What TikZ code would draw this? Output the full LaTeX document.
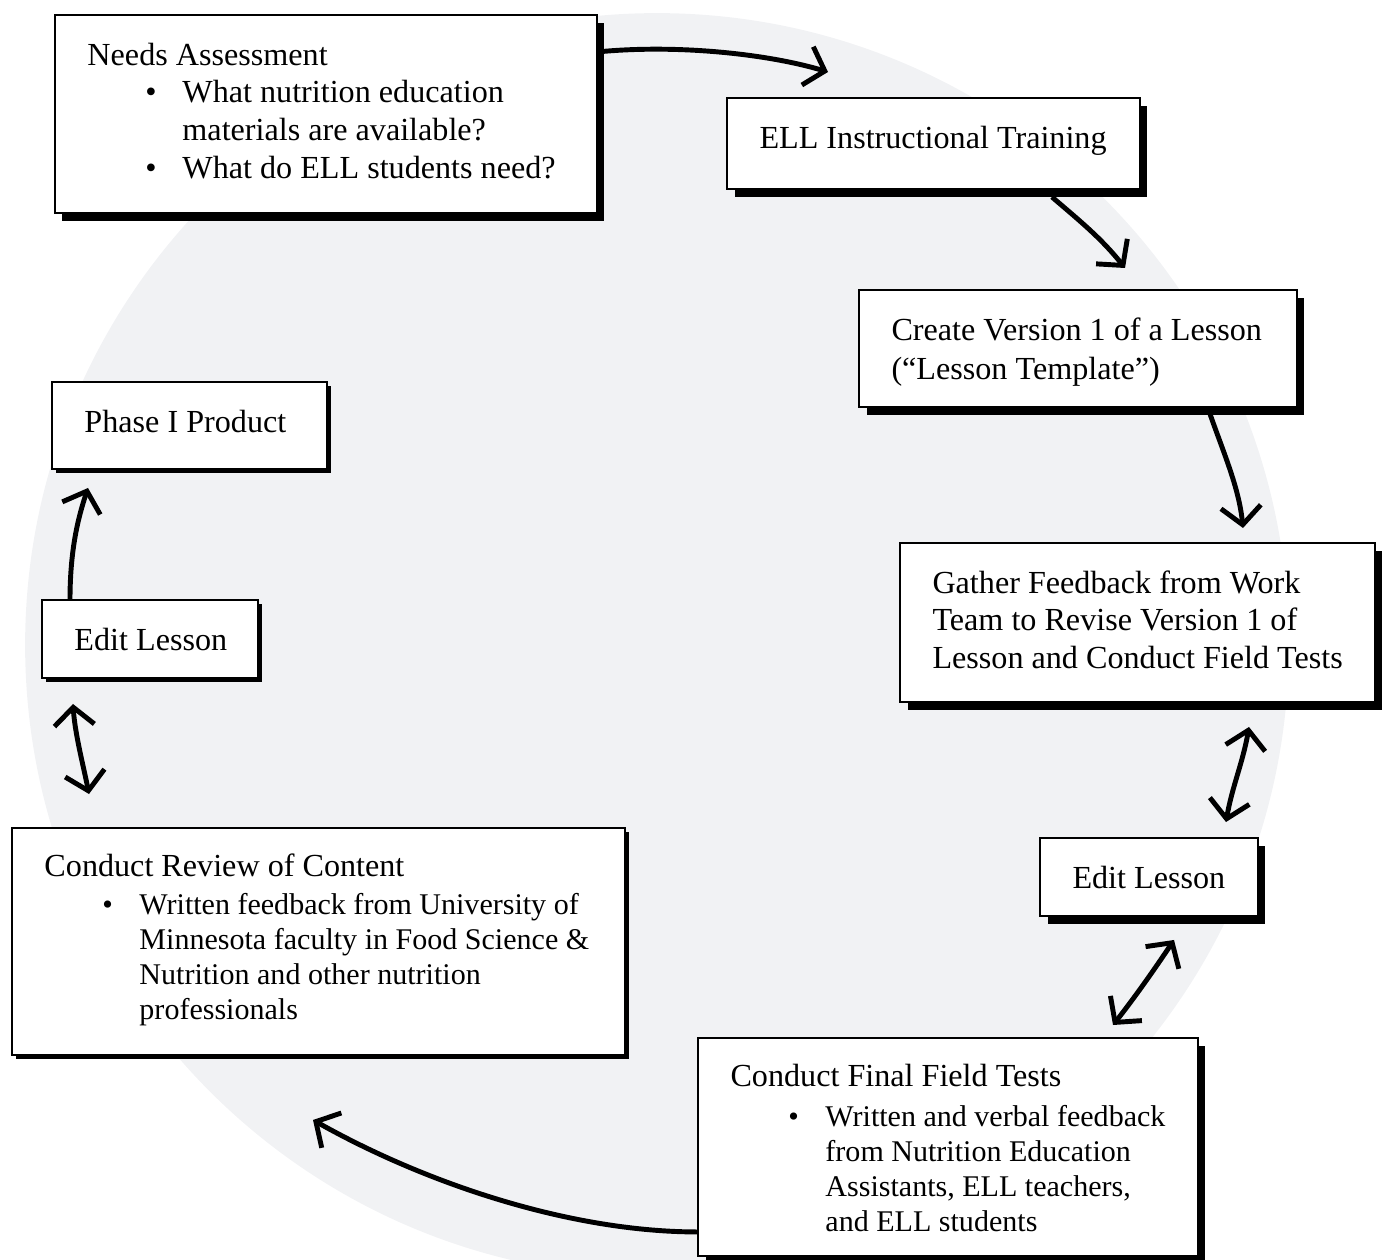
\documentclass[tikz,border=0pt]{standalone}
\usepackage{fontspec}
\setmainfont{Liberation Serif}
\usetikzlibrary{arrows.meta, shadows, calc}
\definecolor{disc}{RGB}{241,242,244}
\newcommand{\bul}{\hspace*{1.16cm}\makebox[0.74cm][l]{\textbullet}}
\newcommand{\cont}{\hspace*{1.9cm}}
\newcommand{\bulsize}{\fontsize{17.1}{20}\selectfont}
\newcommand{\boxtxt}[3]{\begin{minipage}[t][#2][t]{#1}\vspace*{0.48cm}\leftskip=0.65cm\relax\strut #3\end{minipage}}

\begin{document}
\begin{tikzpicture}[x=0.02cm, y=-0.02cm, >={Straight Barb[length=0.36cm,width=0.8cm]},
  stage/.style={draw=black, line width=1.4pt, fill=white, anchor=north west, inner sep=0pt, outer sep=0pt, font=\fontsize{18.3}{21.4}\selectfont},
  deep/.style={stage, drop shadow={shadow xshift=0.15cm, shadow yshift=-0.16cm, fill=black, opacity=1}},
  flat/.style={stage, drop shadow={shadow xshift=0.08cm, shadow yshift=-0.08cm, fill=black, opacity=1}},
  flow/.style={line width=2.8pt}]
\useasboundingbox (0,0) rectangle (1386,1260);
\clip (0,0) rectangle (1386,1260);
\fill[disc] (657,645) circle [radius=12.64cm];

% boxes
\node[deep] (needs) at (55,15) {\boxtxt{10.84cm}{3.96cm}{Needs Assessment\\ \bul What nutrition education\\ \cont materials are available?\\ \bul What do ELL students need?}};
\node[deep] (ell) at (727,98) {\boxtxt{8.26cm}{1.82cm}{ELL Instructional Training}};
\node[deep] (create) at (859,290) {\boxtxt{8.76cm}{2.34cm}{Create Version 1 of a Lesson\\[1pt] (“Lesson Template”)}};
\node[deep] (gather) at (900,543) {\boxtxt{9.5cm}{3.18cm}{Gather Feedback from Work\\ Team to Revise Version 1 of\\ Lesson and Conduct Field Tests}};
\node[deep] (editr) at (1040,838) {\boxtxt{4.36cm}{1.56cm}{Edit Lesson}};
\node[deep, font=\fontsize{18.3}{20}\selectfont] (final) at (698,1038) {\boxtxt{10cm}{4.36cm}{\vspace*{1pt}Conduct Final Field Tests\\[1.5pt] \bulsize\bul Written and verbal feedback\\ \cont from Nutrition Education\\ \cont Assistants, ELL teachers,\\ \cont and ELL students}};
\node[flat, font=\fontsize{18.3}{20}\selectfont] (review) at (12,828) {\boxtxt{12.26cm}{4.54cm}{Conduct Review of Content\\[1.5pt] \bulsize\bul Written feedback from University of\\ \cont Minnesota faculty in Food Science \&\\ \cont Nutrition and other nutrition\\ \cont professionals}};
\node[flat] (editl) at (42,600) {\boxtxt{4.32cm}{1.56cm}{Edit Lesson}};
\node[flat] (phase) at (52,382) {\boxtxt{5.5cm}{1.74cm}{Phase I Product}};

% arrows round the cycle
\draw[flow,->] ($(needs.north east)+(0,37)$) .. controls +(80,-8) and +(-60,-18) .. ($(ell.north west)+(101,-26)$);
\draw[flow,->] ($(ell.south east)+(-88,8)$) .. controls +(28,24) and +(-24,-30) .. ($(create.north west)+(266,-22)$);
\draw[flow,->] ($(create.south west)+(351,7)$) .. controls +(14,40) and +(-4,-40) .. ($(gather.north west)+(343,-15)$);
\draw[flow,<->] ($(gather.south west)+(349,25)$) .. controls +(-6,35) and +(6,-35) .. ($(editr.north west)+(186,-16)$);
\draw[flow,<->] ($(editr.south west)+(134,24)$) .. controls +(-20,30) and +(22,-28) .. ($(final.north west)+(415,-13)$);
\draw[flow,->] ($(final.south west)+(0,-24)$) .. controls +(-130,0) and +(110,62) .. ($(review.south west)+(301,65)$);
\draw[flow,<->] ($(review.north west)+(77,-34)$) .. controls +(-6,-30) and +(2,30) .. ($(editl.south west)+(31,26)$);
\draw[flow,->] ($(editl.north west)+(28,0)$) .. controls +(0,-50) and +(-10,30) .. ($(phase.south west)+(36,19)$);
\end{tikzpicture}
\end{document}
